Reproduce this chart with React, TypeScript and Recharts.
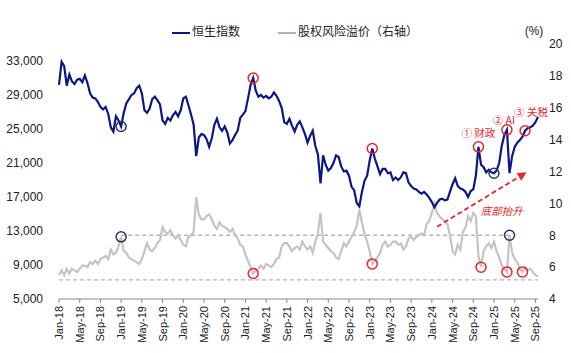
import { LineChart, Line, XAxis, YAxis, Legend, ReferenceLine, ReferenceDot } from "recharts";

// half-month observations, Jan-18 .. Sep-25
const tickLabels = [
  "Jan-18", "May-18", "Sep-18", "Jan-19", "May-19", "Sep-19", "Jan-20", "May-20",
  "Sep-20", "Jan-21", "May-21", "Sep-21", "Jan-22", "May-22", "Sep-22", "Jan-23",
  "May-23", "Sep-23", "Jan-24", "May-24", "Sep-24", "Jan-25", "May-25", "Sep-25",
];

const hsi = [
  30200, 32900, 32400, 30100, 31400, 30600, 30300, 30800, 30900, 30500, 31300, 30400,
  29200, 28700, 28600, 28200, 27600, 27300, 27600, 26800, 25200, 24700, 26500, 26000,
  25300, 26900, 28000, 28500, 29000, 29200, 29800, 30100, 29200, 27200, 26900, 27400,
  28500, 28800, 28400, 27900, 26000, 25600, 26300, 26000, 26600, 27000, 26500, 27200,
  28600, 28800, 27800, 26700, 25500, 21800, 24000, 24400, 24300, 23800, 22900, 23900,
  25500, 26200, 25200, 24800, 25300, 24600, 23300, 23700, 24300, 24800, 26300, 26700,
  27100, 28600, 30200, 31000, 29500, 28800, 29000, 28700, 28900, 28600, 28800, 29300,
  28900, 28300, 27500, 25800, 25600, 26200, 25400, 24700, 25500, 25900, 25200, 24400,
  23400, 24200, 24800, 23000, 22000, 18600, 21900, 20800, 20100, 20400, 21000, 21900,
  21700, 20600, 20000, 20100, 19500, 18200, 17800, 16300, 15900, 17600, 18900, 19500,
  21300, 22700, 21500, 20600, 19700, 20300, 20300, 19800, 19900, 19000, 19300, 19000,
  19300, 19900, 19800, 18700, 18300, 18000, 17900, 17600, 17400, 17600, 17300, 16900,
  16400, 15800, 16300, 16700, 16800, 16600, 16700, 17600, 18500, 19200, 18300, 18000,
  17900, 17600, 17000, 17700, 17900, 19500, 22900, 20800, 20500, 19900, 20200, 19900,
  19800, 20100, 21000, 23000, 24300, 24900, 19800, 21800, 22900, 23400, 23700, 24100,
  24800, 25100, 25200, 25400, 25800, 26400,
];

const erp = [
  5.5, 5.8, 5.5, 5.9, 5.6, 5.9, 5.8, 5.7, 5.9, 6.1, 6.1, 6.0,
  6.3, 6.2, 6.4, 6.2, 6.5, 6.6, 6.7, 6.5, 7.1, 6.8, 6.9, 7.3,
  7.9, 7.0, 6.9, 6.6, 6.5, 6.4, 6.3, 6.2, 6.5, 7.0, 7.5, 7.1,
  7.0, 7.2, 7.5, 7.7, 8.5, 8.2, 8.1, 8.3, 8.0, 7.8, 8.0, 7.7,
  7.4, 7.3, 7.9, 8.0, 8.2, 10.4, 9.3, 9.0, 9.0, 9.2, 9.3, 9.0,
  8.6, 8.4, 8.8, 8.6, 8.5, 8.4, 8.2, 8.4, 8.0, 7.8, 7.4, 7.3,
  6.8, 6.4, 6.0, 5.6, 5.8, 5.9, 6.1, 5.9, 6.2, 6.1, 6.0, 6.2,
  6.5, 6.6, 7.3, 7.5, 7.5, 7.3, 7.0, 7.2, 7.3, 7.1, 7.6, 7.3,
  7.1, 7.3, 6.9, 7.6, 8.1, 9.4, 7.6, 7.4, 7.2, 7.0, 6.9, 6.6,
  6.5, 7.0, 7.5, 7.3, 7.6, 7.9, 8.2, 8.6, 9.6, 8.8, 8.1, 7.6,
  7.0, 6.2, 6.4, 6.6, 6.9, 7.4, 7.6, 7.3, 7.4, 7.6, 7.6, 7.4,
  7.5, 7.1, 7.3, 7.8, 7.9, 7.7, 7.9, 8.0, 8.1, 8.0, 8.7, 8.9,
  9.4, 10.0, 9.4, 9.2, 9.0, 8.9, 8.7, 8.0, 7.0, 6.8, 7.4, 7.1,
  8.2, 8.5, 9.2, 8.9, 9.4, 9.2, 6.7, 6.0, 7.0, 7.3, 7.5, 7.2,
  7.6, 7.0, 6.6, 6.1, 5.9, 5.7, 8.0, 6.9, 6.5, 6.3, 5.9, 5.7,
  6.0, 5.8, 5.9, 5.7, 5.5, 5.4,
];

const leftTicks = [5000, 9000, 13000, 17000, 21000, 25000, 29000, 33000];
const rightTicks = [4, 6, 8, 10, 12, 14, 16, 18, 20];

// marked points (index into the series)
const redOnHsi = [75, 121, 162, 173, 180];
const navyOnHsi = [24, 168];
const redOnErp = [75, 121, 163, 173, 179];
const navyOnErp = [24, 174];

const data = hsi.map((v, i) => ({ i, hsi: v, erp: erp[i] }));

const NAVY = "#0b1783";
const GREY = "#c4c4c4";
const RED = "#e8262b";
const RING = "#2a3760";
const FONT = "'Liberation Sans', Arial, 'Noto Sans CJK SC', sans-serif";

function MonthTick({ x, y, payload }: any) {
  return (
    <text
      transform={`translate(${x + 4},${y + 1}) rotate(-90)`}
      textAnchor="end"
      fontSize={11}
      fill="#222"
      fontFamily={FONT}
    >
      {tickLabels[Math.round(payload.value / 8)]}
    </text>
  );
}

function LegendRow() {
  const mark = (c: string) => (
    <span style={{ display: "inline-block", width: 18, height: 2, background: c, marginRight: 2, verticalAlign: "middle" }} />
  );
  return (
    <div style={{ display: "flex", fontSize: 12, color: "#222", fontFamily: "'Noto Sans CJK SC', sans-serif", whiteSpace: "nowrap" }}>
      <span style={{ marginRight: 38 }}>{mark(NAVY)}恒生指数</span>
      <span>{mark("#b0b0b0")}股权风险溢价（右轴）</span>
    </div>
  );
}

const note = (text: string, dx: number, dy: number, italic = false) => (p: any) => {
  const vb = p.viewBox || {};
  const cx = vb.x + (vb.width || 0) / 2;
  const cy = vb.y + (vb.height || 0) / 2;
  return (
    <text
      x={cx + dx}
      y={cy + dy}
      textAnchor="middle"
      fill={RED}
      fontSize={10.5}
      fontStyle={italic ? "italic" : "normal"}
      fontFamily="'Noto Sans CJK SC', sans-serif"
    >
      {text}
    </text>
  );
};

const notes: Record<number, any> = {
  162: note("① 财政", 0, -10),
  173: note("② AI", -3, -6),
  180: note("③ 关税", 6, -15),
};

export default function App() {
  return (
    <div style={{ position: "absolute", left: 0, top: 0, background: "#fff" }}>
      <LineChart
        width={571}
        height={353}
        data={data}
        margin={{ top: 27, right: 0, left: 0, bottom: 0 }}
        style={{ fontFamily: FONT }}
      >
        <defs>
          <marker id="arrowHead" viewBox="0 0 10 10" refX="8" refY="5" markerWidth="5" markerHeight="5" orient="auto">
            <path d="M0,0 L10,5 L0,10 z" fill={RED} />
          </marker>
        </defs>
        <Legend verticalAlign="top" content={<LegendRow />} wrapperStyle={{ top: 22, left: 172, width: "auto" }} />
        <XAxis
          dataKey="i"
          type="number"
          domain={[0, 185]}
          ticks={tickLabels.map((_, k) => k * 8)}
          height={54}
          tick={<MonthTick />}
          tickSize={4}
          tickMargin={2}
          stroke="#888"
          interval={0}
        />
        <YAxis
          yAxisId="left"
          domain={[5000, 35000]}
          ticks={leftTicks}
          width={59}
          axisLine={false}
          tickLine={false}
          tickSize={0}
          tickMargin={16}
          tickFormatter={(v: number) => v.toLocaleString("en-US")}
          tick={{ fontSize: 12, fill: "#222" }}
          interval={0}
        />
        <YAxis
          yAxisId="right"
          orientation="right"
          domain={[4, 20]}
          ticks={rightTicks}
          width={33}
          axisLine={false}
          tickLine={false}
          tickSize={0}
          tickMargin={11}
          tick={{ fontSize: 12, fill: "#222" }}
          interval={0}
          label={(p: any) => {
            const vb = p.viewBox || {};
            return (
              <text x={vb.x - 4} y={vb.y - 9} textAnchor="middle" fontSize={12} fill="#222" fontFamily={FONT}>
                (%)
              </text>
            );
          }}
        />
        <ReferenceLine
          yAxisId="right"
          segment={[{ x: 24, y: 8 }, { x: 174, y: 8 }]}
          stroke="#b5b5b5"
          strokeDasharray="4 3"
          strokeWidth={1.3}
        />
        <ReferenceLine
          yAxisId="right"
          segment={[{ x: 0, y: 5.2 }, { x: 185, y: 5.2 }]}
          stroke="#b5b5b5"
          strokeDasharray="4 3"
          strokeWidth={1.3}
        />
        <Line yAxisId="right" dataKey="erp" stroke={GREY} strokeWidth={2.2} dot={false} isAnimationActive={false} />
        <Line yAxisId="left" dataKey="hsi" stroke={NAVY} strokeWidth={2.2} dot={false} isAnimationActive={false} />
        <ReferenceLine
          yAxisId="left"
          segment={[{ x: 146, y: 13500 }, { x: 180, y: 19800 }]}
          stroke={RED}
          strokeDasharray="5 3"
          strokeWidth={1.8}
          markerEnd="url(#arrowHead)"
        />
        <ReferenceDot
          yAxisId="left"
          x={171}
          y={15400}
          r={0}
          fill="none"
          stroke="none"
          label={note("底部抬升", 0, 4, true)}
        />
        {redOnHsi.map((k) => (
          <ReferenceDot
            key={"rh" + k}
            yAxisId="left"
            x={k}
            y={hsi[k]}
            r={5}
            fill="none"
            stroke={RED}
            strokeWidth={1.5}
            label={notes[k]}
          />
        ))}
        {navyOnHsi.map((k) => (
          <ReferenceDot key={"nh" + k} yAxisId="left" x={k} y={hsi[k]} r={5} fill="none" stroke={RING} strokeWidth={1.5} />
        ))}
        {redOnErp.map((k) => (
          <ReferenceDot key={"re" + k} yAxisId="right" x={k} y={erp[k]} r={5} fill="none" stroke={RED} strokeWidth={1.5} />
        ))}
        {navyOnErp.map((k) => (
          <ReferenceDot key={"ne" + k} yAxisId="right" x={k} y={erp[k]} r={5} fill="none" stroke={RING} strokeWidth={1.5} />
        ))}
      </LineChart>
    </div>
  );
}
